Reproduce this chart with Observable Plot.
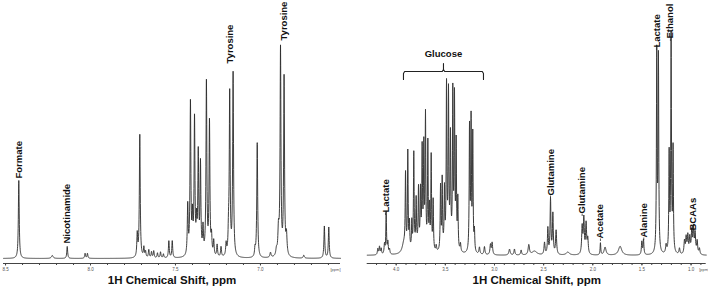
<!DOCTYPE html>
<html><head><meta charset="utf-8">
<script src="https://cdn.jsdelivr.net/npm/d3@7"></script>
<script src="https://cdn.jsdelivr.net/npm/@observablehq/plot@0.6"></script>
<style>
body{margin:0;background:#fff;}
#wrap{display:flex;width:708px;height:293px;overflow:hidden;}
#wrap svg{font-family:"Liberation Sans",Arial,sans-serif;overflow:visible;}
</style></head><body><div id="wrap"></div>
<script>
// ---------- Left panel: aromatic region (ppm) ----------
const aroPpm    = [8.422,8.225,8.137,8.032,8.018,7.725,7.710,7.686,7.676,7.657,7.641,7.628,7.606,7.588,7.571,7.539,7.519,
                   7.428,7.412,7.400,7.388,7.376,7.366,7.353,7.338,7.318,7.300,7.288,7.275,7.255,7.232,7.202,
                   7.188,7.181,7.161,7.032,7.019,6.941,6.906,6.894,6.882,6.861,6.847,6.745,6.624,6.598];
const aroHeight = [78,3,12,5,5,23,123,10,6,8,6,7,5,6,4,17,17,
                   50,152,35,135,30,100,90,26,173,133,18,15,12,10,12,
                   20,162,183,8,115,5,6,25,207,178,20,3,32,31];
const aroWidth  = [0.003,0.006,0.003,0.003,0.003,0.003,0.003,0.003,0.003,0.003,0.003,0.003,0.003,0.003,0.003,0.003,0.003,
                   0.003,0.003,0.003,0.003,0.003,0.003,0.003,0.003,0.003,0.003,0.003,0.003,0.003,0.003,0.003,
                   0.003,0.003,0.003,0.003,0.003,0.004,0.004,0.004,0.003,0.003,0.004,0.004,0.003,0.003];
const aroLabels    = ["Formate","Nicotinamide","Tyrosine","Tyrosine"];
const aroLabelPpm  = [8.422,8.137,7.181,6.863];
const aroLabelBase = [80,15,195,218];
const aroTicks     = [8.5,8.0,7.5,7.0];
const aroDomain    = [8.512,6.529];

// ---------- Right panel: aliphatic region (ppm) ----------
const aliPpm    = [4.187,4.170,4.153,4.119,4.102,4.085,4.068,3.922,
                   3.905,3.882,3.865,3.841,3.821,3.797,3.773,3.753,3.736,3.719,3.702,3.678,3.661,3.644,3.624,3.593,3.780,
                   3.549,3.532,3.509,3.488,3.468,3.448,3.424,3.407,3.390,3.373,3.346,3.460,
                   3.254,3.238,3.221,3.204,3.153,3.102,3.041,3.024,2.847,2.797,2.729,2.651,2.593,
                   2.491,2.457,2.430,2.406,2.373,2.254,2.108,2.091,2.068,2.051,
                   1.922,1.875,1.722,1.501,1.484,1.349,1.332,1.254,1.223,1.203,1.183,1.118,
                   1.067,1.050,1.033,1.013,0.993,0.976,0.959,0.938,0.915];
const aliHeight = [6,8,6,10,42,12,5,10,
                   74,98,26,27,95,46,56,54,97,100,132,106,40,94,50,6,8,
                   64,70,58,160,150,106,153,148,104,50,8,8,
                   124,130,116,20,7,8,10,12,6,6,5,10,4,
                   12,26,55,40,24,3,27,35,30,15,
                   12,8,9,13,15,200,194,8,98,216,103,6,
                   13,16,18,16,22,25,20,13,6];
const aliWidth  = [0.005,0.005,0.005,0.005,0.004,0.005,0.005,0.02,
                   0.004,0.004,0.004,0.004,0.004,0.004,0.004,0.004,0.004,0.004,0.004,0.004,0.004,0.004,0.004,0.005,0.05,
                   0.004,0.004,0.004,0.004,0.004,0.004,0.004,0.004,0.004,0.004,0.005,0.04,
                   0.004,0.004,0.004,0.004,0.006,0.006,0.006,0.006,0.008,0.006,0.006,0.008,0.03,
                   0.006,0.005,0.005,0.005,0.006,0.02,0.006,0.006,0.006,0.006,
                   0.004,0.012,0.02,0.005,0.005,0.004,0.004,0.006,0.004,0.004,0.004,0.006,
                   0.006,0.006,0.006,0.006,0.006,0.006,0.006,0.006,0.006];
const aliLabels    = ["Lactate","Glutamine","Glutamine","Acetate","Alanine","Lactate","Ethanol","BCAAs"];
const aliLabelPpm  = [4.109,2.430,2.108,1.922,1.481,1.352,1.210,0.983];
const aliLabelBase = [43,60,42,17,18,208,217,25];
const aliTicks     = [4.0,3.5,3.0,2.5,2.0,1.5,1.0];
const aliDomain    = [4.295,0.846];
const glucoseRange = [3.926,3.112];
const glucoseLevel = 184;

const axisTitle = "1H Chemical Shift, ppm";
const unitLabel = "[ppm]";

// Lorentzian line shape built from the peak lists above
function spectrum(ppm, hgt, wid, lo, hi, step) {
  const xs = d3.range(lo, hi, step).concat(ppm).sort((a, b) => a - b);
  return xs.map(x => {
    let s = 0;
    for (let k = 0; k < ppm.length; k++) {
      const w = wid[k], d = x - ppm[k];
      s += hgt[k] * w * w / (d * d + w * w);
    }
    return {ppm: x, i: s};
  });
}

function panel({ppm, hgt, wid, domain, step, yDomain, ml, mr, ticks, labels, labelPpm, labelBase, stroke, sw, unitDx, leaders, extra}) {
  const lo = Math.min(...domain), hi = Math.max(...domain);
  const spec = spectrum(ppm, hgt, wid, lo, hi, step);
  const minor = d3.range(Math.ceil(lo * 10), Math.floor(hi * 10) + 1).map(v => v / 10);
  const lab = labels.map((t, k) => ({t, x: labelPpm[k], b: labelBase[k]}));
  return Plot.plot({
    width: 354, height: 293,
    marginLeft: ml, marginRight: mr, marginTop: 0, marginBottom: 30,
    x: {domain},
    y: {domain: yDomain, axis: null},
    marks: [
      Plot.ruleY([yDomain[0]], {stroke: "#444", strokeWidth: 1}),
      Plot.axisX({ticks: minor, tickSize: 2, tickFormat: () => "", label: null, stroke: "#444"}),
      Plot.axisX({ticks, tickSize: 2.5, tickFormat: d3.format(".1f"), label: null, fontSize: 4.5,
                  tickPadding: 2, fill: "#555", stroke: "#444"}),
      Plot.line(spec, {x: "ppm", y: "i", stroke, strokeWidth: sw}),
      leaders ? Plot.ruleX(lab, {x: "x", y1: d => d.b - 3, y2: d => d.b - 0.5, stroke: "#333", strokeWidth: 0.8}) : null,
      Plot.text(lab, {x: "x", y: "b", text: "t", rotate: -90, textAnchor: "start",
                      fontWeight: "bold", fontSize: 9.5, fill: "#111"}),
      Plot.text([unitLabel], {text: d => d, frameAnchor: "bottom-right", dy: 7, dx: unitDx,
                              textAnchor: "start", fontSize: 4, fill: "#555"}),
      Plot.text([axisTitle], {text: d => d, frameAnchor: "bottom", dy: 20,
                              fontSize: 11.5, fontWeight: "bold", fill: "#111"}),
      ...(extra || [])
    ]
  });
}

const wrap = document.getElementById("wrap");

wrap.appendChild(panel({
  ppm: aroPpm, hgt: aroHeight, wid: aroWidth, domain: aroDomain, step: 0.0008,
  yDomain: [-5, 258], ml: 3, mr: 14, ticks: aroTicks,
  labels: aroLabels, labelPpm: aroLabelPpm, labelBase: aroLabelBase,
  stroke: "#2a2a2a", sw: 0.9, unitDx: -10, leaders: false
}));

// glucose bracket, built from the glucose range and level
const [g0, g1] = glucoseRange;
const gm = (g0 + g1) / 2;
const bracket = [
  {x: g0, y: glucoseLevel - 8}, {x: g0, y: glucoseLevel - 2}, {x: g0 - 0.012, y: glucoseLevel},
  {x: gm + 0.012, y: glucoseLevel}, {x: gm, y: glucoseLevel + 2}, {x: gm, y: glucoseLevel + 8},
  {x: gm, y: glucoseLevel + 2}, {x: gm - 0.012, y: glucoseLevel},
  {x: g1 + 0.012, y: glucoseLevel}, {x: g1, y: glucoseLevel - 2}, {x: g1, y: glucoseLevel - 8}
];

wrap.appendChild(panel({
  ppm: aliPpm, hgt: aliHeight, wid: aliWidth, domain: aliDomain, step: 0.0015,
  yDomain: [-8, 255], ml: 12.7, mr: 2.3, ticks: aliTicks,
  labels: aliLabels, labelPpm: aliLabelPpm, labelBase: aliLabelBase,
  stroke: "#3a3a3a", sw: 1.0, unitDx: -7, leaders: true,
  extra: [
    Plot.line(bracket, {x: "x", y: "y", stroke: "#222", strokeWidth: 1.1, curve: "linear"}),
    Plot.text(["Glucose"], {text: d => d, x: gm, y: glucoseLevel + 18, fontWeight: "bold",
                            fontSize: 9.5, fill: "#111"})
  ]
}));
</script></body></html>
